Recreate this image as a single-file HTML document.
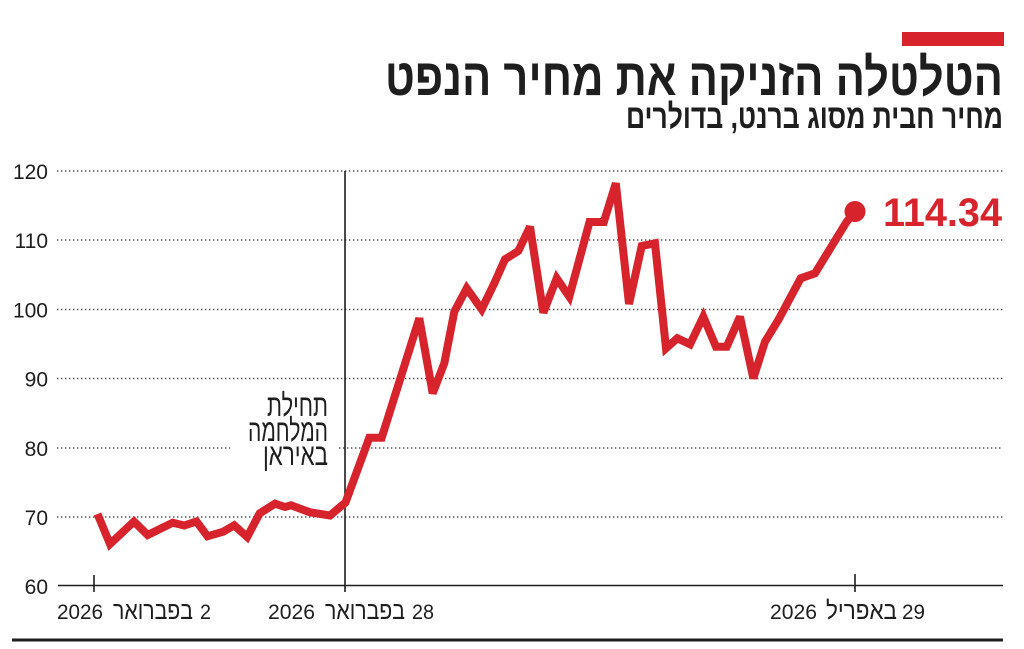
<!DOCTYPE html>
<html>
<head>
<meta charset="utf-8">
<style>
  html,body{margin:0;padding:0;background:#fff;}
  svg{display:block;}
  text{font-family:"Liberation Sans","DejaVu Sans",sans-serif;fill:#1e1e1e;}
</style>
</head>
<body>
<svg width="1024" height="649" viewBox="0 0 1024 649" xmlns="http://www.w3.org/2000/svg">
  <rect x="0" y="0" width="1024" height="649" fill="#fff"/>

  <!-- red bar -->
  <rect x="902" y="32" width="102" height="14" fill="#d6232c"/>

  <!-- title -->
  <text x="1003" y="95" text-anchor="end" font-size="52" font-weight="bold" textLength="618" lengthAdjust="spacingAndGlyphs">הטלטלה הזניקה את מחיר הנפט</text>
  <text x="1003" y="128" text-anchor="end" font-size="34" font-weight="bold" textLength="377" lengthAdjust="spacingAndGlyphs">מחיר חבית מסוג ברנט, בדולרים</text>

  <!-- gridlines -->
  <g stroke="#555" stroke-width="1.4" stroke-dasharray="1.4 2.6" fill="none">
    <line x1="57" y1="171" x2="1003" y2="171"/>
    <line x1="57" y1="240" x2="1003" y2="240"/>
    <line x1="57" y1="309.5" x2="1003" y2="309.5"/>
    <line x1="57" y1="378.5" x2="1003" y2="378.5"/>
    <line x1="57" y1="448" x2="230" y2="448"/>
    <line x1="339" y1="448" x2="1003" y2="448"/>
    <line x1="57" y1="517" x2="1003" y2="517"/>
  </g>

  <!-- y labels -->
  <g font-size="21" text-anchor="end">
    <text x="48" y="179">120</text>
    <text x="48" y="248">110</text>
    <text x="48" y="317.5">100</text>
    <text x="48" y="386.5">90</text>
    <text x="48" y="456">80</text>
    <text x="48" y="525">70</text>
    <text x="48" y="594">60</text>
  </g>

  <!-- vertical event line -->
  <line x1="345" y1="171" x2="345" y2="592" stroke="#1e1e1e" stroke-width="1.6"/>

  <!-- annotation -->
  <g font-size="31" text-anchor="end">
    <text x="328" y="416" textLength="61" lengthAdjust="spacingAndGlyphs">תחילת</text>
    <text x="328" y="441" textLength="80" lengthAdjust="spacingAndGlyphs">המלחמה</text>
    <text x="328" y="465" textLength="65" lengthAdjust="spacingAndGlyphs">באיראן</text>
  </g>

  <!-- baseline + ticks -->
  <line x1="58" y1="585.5" x2="1003" y2="585.5" stroke="#1e1e1e" stroke-width="1.6"/>
  <line x1="94" y1="575" x2="94" y2="592" stroke="#1e1e1e" stroke-width="1.6"/>
  <line x1="855" y1="574" x2="855" y2="592" stroke="#1e1e1e" stroke-width="1.6"/>

  <!-- x labels -->
  <g font-size="21">
    <text x="57" y="619" textLength="46" lengthAdjust="spacingAndGlyphs">2026</text>
    <text x="113" y="619" font-size="25" textLength="80" lengthAdjust="spacingAndGlyphs">בפברואר</text>
    <text x="200" y="619" textLength="11" lengthAdjust="spacingAndGlyphs">2</text>

    <text x="268" y="619" textLength="47" lengthAdjust="spacingAndGlyphs">2026</text>
    <text x="325" y="619" font-size="25" textLength="80" lengthAdjust="spacingAndGlyphs">בפברואר</text>
    <text x="412" y="619" textLength="22" lengthAdjust="spacingAndGlyphs">28</text>

    <text x="770" y="619" textLength="47" lengthAdjust="spacingAndGlyphs">2026</text>
    <text x="826" y="619" font-size="25" textLength="71" lengthAdjust="spacingAndGlyphs">באפריל</text>
    <text x="902" y="619" textLength="23" lengthAdjust="spacingAndGlyphs">29</text>
  </g>

  <!-- bottom rule -->
  <line x1="12" y1="640" x2="1003" y2="640" stroke="#1e1e1e" stroke-width="3"/>

  <!-- data line -->
  <polyline fill="none" stroke="#d6232c" stroke-width="8" stroke-linejoin="miter" stroke-miterlimit="3" stroke-linecap="butt"
    points="97.5,514 110,544 134,521.5 147.7,535 172.7,522.7 184.2,525.5 196.5,521.5 207.5,536.3 223.2,531.7 234.2,525.3 247.2,537 259.7,513.3 275,503.7 285,507 291,505.3 310,512.3 330,515.5 345.5,502.5 369.3,437.7 381.7,437.7 419.3,318.3 432.7,393.3 444.3,363.3 454.3,311.7 466.7,288.3 481.7,309.3 494.3,283.3 505,259.3 518.3,251 530,226.7 543.3,312.7 556.7,278.3 569.3,296.7 589.5,222 603.8,222 615.8,183.3 629,304 641.7,246 655,243.3 666,348.3 677.3,338.3 690,344.3 703.3,316.7 716,346.7 726.7,346.7 740,316.7 753.3,378.3 765,341.7 778.3,320 800.7,278.3 815,273.3 846.7,221.7 855,211.7"/>
  <circle cx="855" cy="211.5" r="10.5" fill="#d6232c"/>

  <!-- end value -->
  <text x="883" y="226" font-size="40" font-weight="bold" textLength="119" lengthAdjust="spacingAndGlyphs" style="fill:#d6232c">114.34</text>
</svg>
</body>
</html>
